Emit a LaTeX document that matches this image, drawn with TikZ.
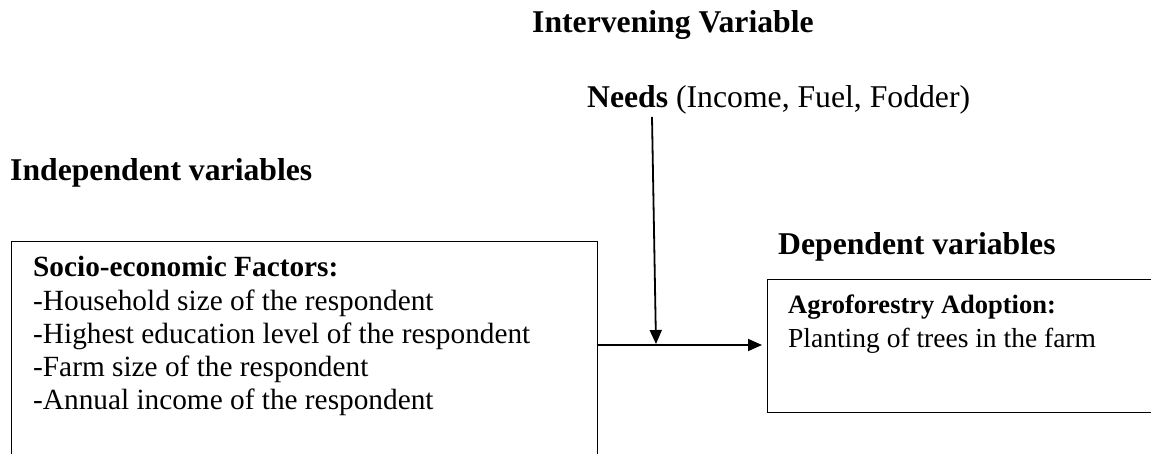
\documentclass[tikz,border=0pt]{standalone}
\usepackage{fontspec}
\setmainfont{Liberation Serif}
\usetikzlibrary{arrows.meta}
\begin{document}
\begin{tikzpicture}[x=1pt,y=-1pt,
  head/.style={font=\fontsize{31.7}{36}\selectfont\bfseries, anchor=base west, inner sep=0pt},
  plainhead/.style={font=\fontsize{31.7}{36}\selectfont, anchor=base west, inner sep=0pt},
  body/.style={font=\fontsize{29.3}{33}\selectfont, anchor=base west, inner sep=0pt},
  rbody/.style={font=\fontsize{27.5}{33}\selectfont, anchor=base west, inner sep=0pt},
  rhead/.style={font=\fontsize{26.5}{33}\selectfont\bfseries, anchor=base west, inner sep=0pt},
  box/.style={draw, line width=1.3pt, inner sep=0pt, anchor=north west},
  arr/.style={line width=1.8pt, -{Triangle[length=14pt,width=12pt]}}]
\useasboundingbox (0,0) rectangle (1151,454);
\clip (0,0) rectangle (1151,454);
% headings
\node[head] (interv) at (532,33) {Intervening Variable};
\node[plainhead] (needs) at (587,108) {\textbf{Needs} (Income, Fuel, Fodder)};
\node[head] (indep) at (10,181) {Independent variables};
\node[head] (dep) at (778,255) {Dependent variables};
% boxes
\node[box, minimum width=586pt, minimum height=250pt] (leftbox) at (11,241) {};
\node[box, minimum width=400pt, minimum height=133pt] (rightbox) at (767,279) {};
% left box text
\node[body] (l0) at (33,277) {\textbf{Socio-economic Factors:}};
\node[body] (l1) at (33,310) {-Household size of the respondent};
\node[body] (l2) at (33,343) {-Highest education level of the respondent};
\node[body] (l3) at (33,376) {-Farm size of the respondent};
\node[body] (l4) at (33,409) {-Annual income of the respondent};
% right box text
\node[rhead] (r0) at (788,313) {Agroforestry Adoption:};
\node[rbody] (r1) at (788,347) {Planting of trees in the farm};
% arrows
\coordinate (vtop) at (652,117);
\coordinate (vtip) at (656,344);
\draw[arr] (vtop) -- (vtip);
\draw[arr, shorten >=5pt] (leftbox.north east |- 0,345) -- (rightbox.north west |- 0,345);
\end{tikzpicture}
\end{document}
